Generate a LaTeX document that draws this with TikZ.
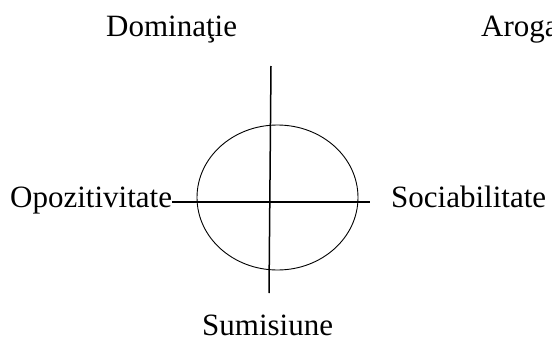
\documentclass[tikz,border=0pt]{standalone}
\usepackage{fontspec}
\setmainfont{Liberation Serif}
\usetikzlibrary{shapes.geometric}
\begin{document}
\begin{tikzpicture}[x=1pt,y=-1pt,
  lbl/.style={inner sep=0pt,font=\fontsize{31}{37}\selectfont},
  axis/.style={line width=1.5pt},
  oval/.style={draw,ellipse,line width=0.9pt,inner sep=0pt,minimum width=161pt,minimum height=145pt}]
\useasboundingbox (0,0) rectangle (552,343);
\clip (0,0) rectangle (552,343);
\node[oval] (c) at (277.5,197.5) {};
\node[lbl,anchor=base west] (dom) at (106,36) {Dominaţie};
\node[lbl,anchor=base west] (aro) at (481,36) {Aroganţă};
\node[lbl,anchor=base west] (opo) at (10,207) {Opozitivitate};
\node[lbl,anchor=base west] (soc) at (391,207) {Sociabilitate};
\node[lbl,anchor=base west] (sum) at (202,335) {Sumisiune};
\coordinate (top) at (271,66);
\coordinate (bot) at (269,293);
\coordinate (rgt) at (370,202);
\draw[axis] (top) -- (bot);
\draw[axis] (opo.east |- rgt) -- (rgt);
\end{tikzpicture}
\end{document}
